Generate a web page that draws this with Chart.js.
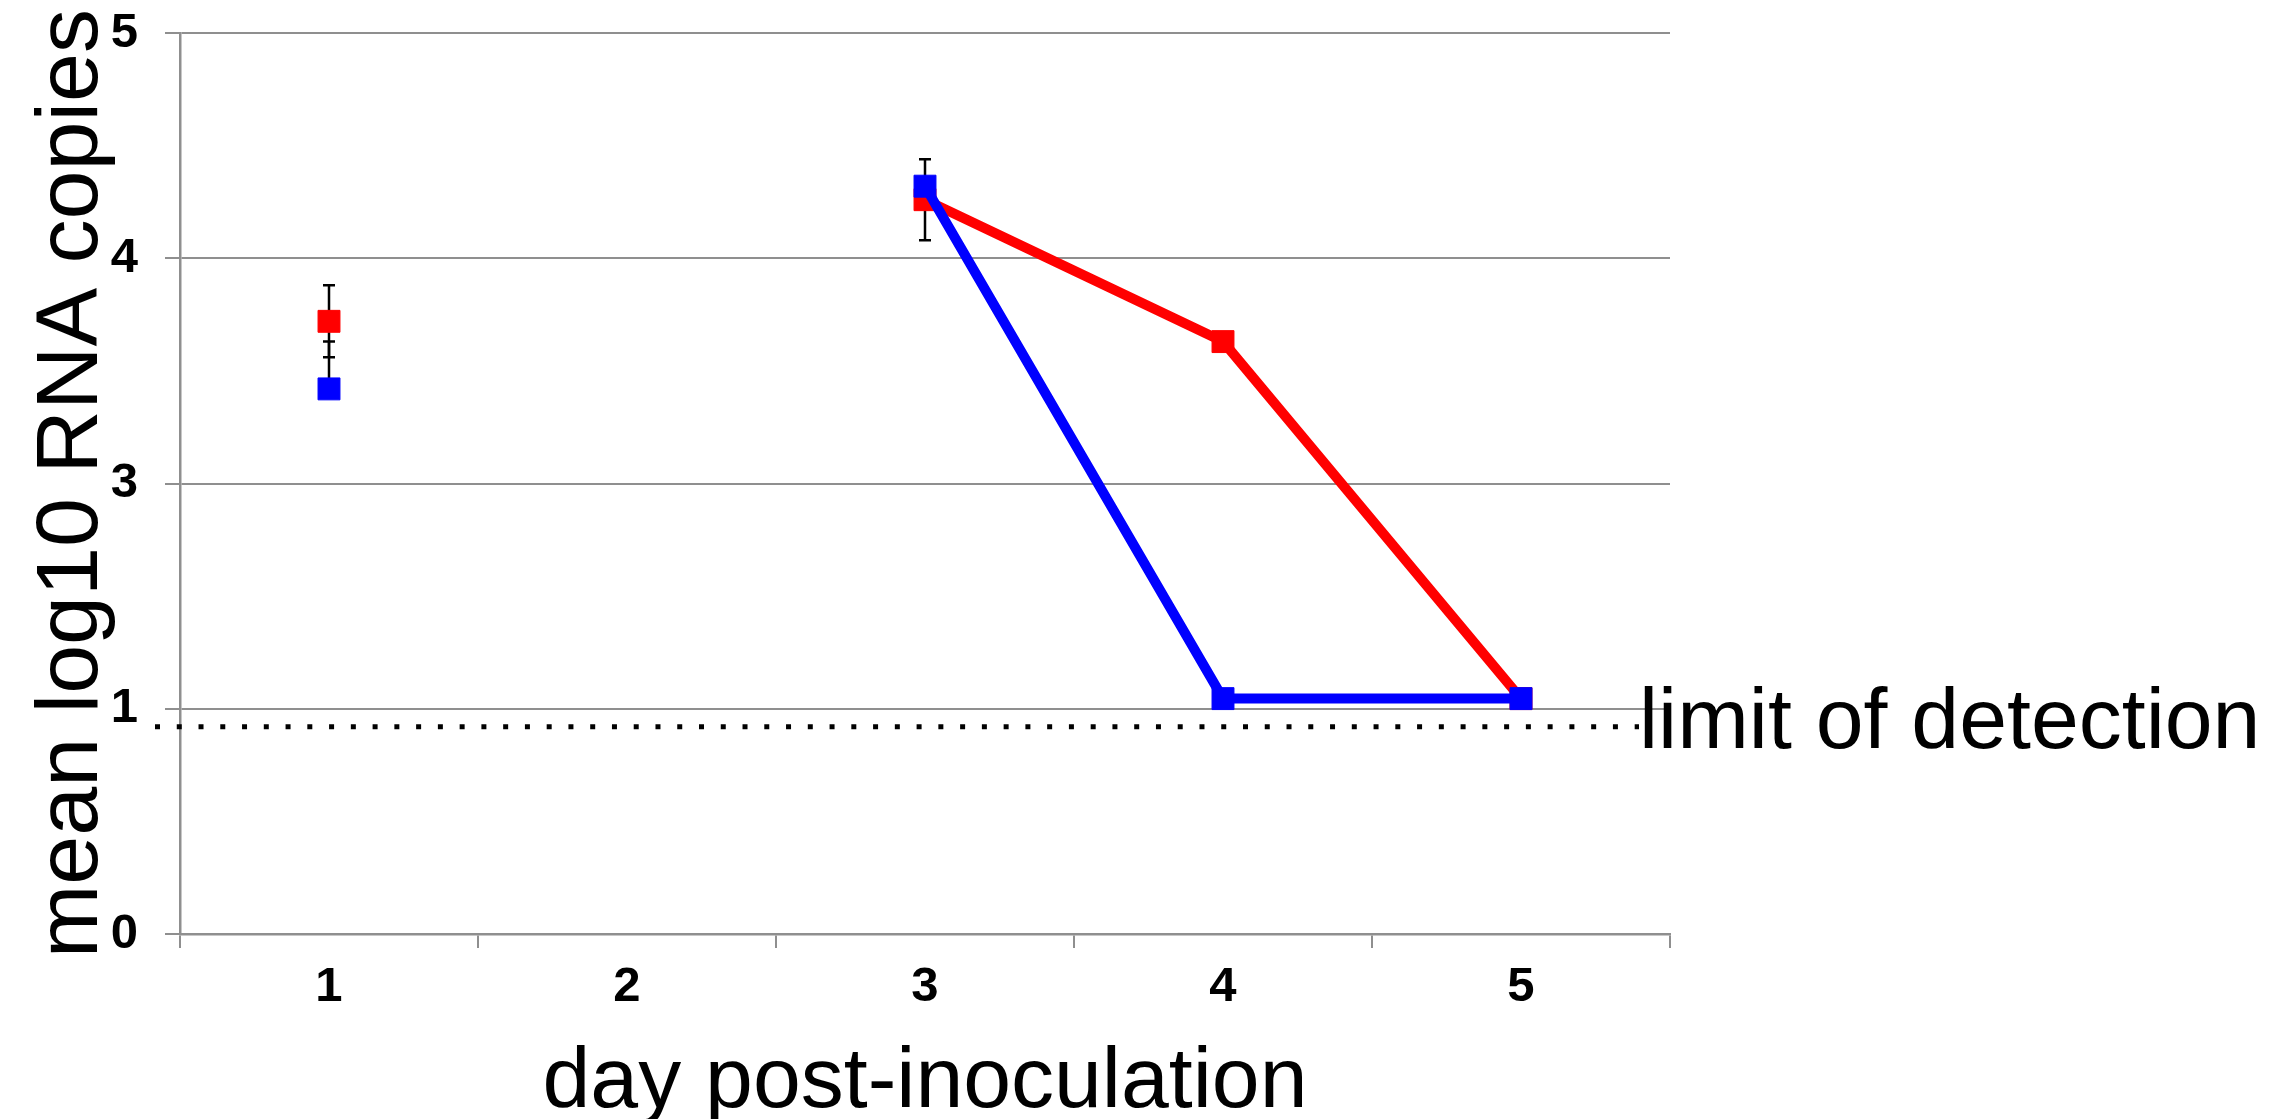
<!DOCTYPE html>
<html>
<head>
<meta charset="utf-8">
<script src="https://cdn.jsdelivr.net/npm/chart.js@4.4.1/dist/chart.umd.min.js"></script>
<style>
  html, body { margin: 0; padding: 0; background: #fff; }
  canvas { display: block; }
</style>
</head>
<body>
<canvas id="rnaChart" width="2285" height="1119"></canvas>
<script>
// ---- Data (y values in axis-label units) ----
const days        = ['1', '2', '3', '4', '5'];
const yTickLabels = ['0', '1', '3', '4', '5'];   // broken axis: no "2"
const redValues   = [3.72, null, 4.26, 3.63, 1.09];
const blueValues  = [3.42, null, 4.32, 1.09, 1.09];
const redErrUp    = [0.16, null, 0.18, null, null];
const redErrDown  = [0.16, null, 0.18, null, null];
const blueErrUp   = [0.21, null, null, null, null];
const blueErrDown = [0,    null, null, null, null];
const detectionLimit = 0.92;

// ---- Palette ----
const GRID = '#8f8f8f';
const RED  = '#ff0000';
const BLUE = '#0000ff';
const FONT = "'Liberation Sans', Arial, sans-serif";

// label value -> position on the evenly spaced axis (1..3 squeezed into one step)
function axisPos(v) {
  if (v == null) return null;
  if (v <= 1) return v;
  if (v <= 3) return 1 + (v - 1) / 2;
  return v - 1;
}

function series(label, color, values) {
  return {
    label,
    data: values.map(axisPos),
    borderColor: color,
    backgroundColor: color,
    borderWidth: 10,
    tension: 0,
    spanGaps: false,
    pointStyle: 'rect',
    pointRadius: 15.5,
    pointBorderWidth: 1,
    pointBorderColor: color,
    pointBackgroundColor: color
  };
}

// error bars drawn under the markers
const errorBars = {
  id: 'errorBars',
  beforeDatasetsDraw(chart) {
    const { ctx, scales: { x, y } } = chart;
    ctx.save();
    ctx.strokeStyle = '#000';
    ctx.lineWidth = 2.5;
    [[redValues, redErrUp, redErrDown], [blueValues, blueErrUp, blueErrDown]].forEach(([vals, up, down]) => {
      vals.forEach((v, i) => {
        if (v == null || up[i] == null) return;
        const px  = x.getPixelForValue(i);
        const yHi = y.getPixelForValue(axisPos(v + up[i]));
        const yLo = y.getPixelForValue(axisPos(v - down[i]));
        ctx.beginPath();
        ctx.moveTo(px, yHi);
        ctx.lineTo(px, yLo);
        if (up[i] > 0)   { ctx.moveTo(px - 6, yHi); ctx.lineTo(px + 6, yHi); }
        if (down[i] > 0) { ctx.moveTo(px - 6, yLo); ctx.lineTo(px + 6, yLo); }
        ctx.stroke();
      });
    });
    ctx.restore();
  }
};

// dotted limit-of-detection line + label
const detectionLine = {
  id: 'detectionLine',
  afterDraw(chart) {
    const { ctx, chartArea, scales: { y } } = chart;
    const ly = y.getPixelForValue(axisPos(detectionLimit));
    const textX = chartArea.right - 31;
    ctx.save();
    ctx.strokeStyle = '#000';
    ctx.lineWidth = 5;
    ctx.setLineDash([5, 16.76]);
    ctx.beginPath();
    ctx.moveTo(chartArea.left - 25, ly);
    ctx.lineTo(textX, ly);
    ctx.stroke();
    ctx.setLineDash([]);
    ctx.fillStyle = '#000';
    ctx.font = `86px ${FONT}`;
    ctx.textBaseline = 'alphabetic';
    ctx.textAlign = 'left';
    ctx.fillText('limit of detection', textX, ly + 21);
    ctx.restore();
  }
};

new Chart(document.getElementById('rnaChart'), {
  type: 'line',
  data: {
    labels: days,
    datasets: [
      series('blue', BLUE, blueValues),
      series('red', RED, redValues)
    ]
  },
  options: {
    responsive: false,
    animation: false,
    layout: { padding: { top: 33, right: 615, left: 0, bottom: 0 } },
    plugins: { legend: { display: false }, tooltip: { enabled: false } },
    scales: {
      x: {
        type: 'category',
        offset: true,
        grid: {
          offset: true,
          drawOnChartArea: false,
          drawTicks: true,
          tickLength: 14,
          color: GRID,
          lineWidth: 2
        },
        border: { color: GRID, width: 2.5 },
        ticks: {
          padding: 10,
          color: '#000',
          font: { family: FONT, size: 49, weight: 'bold' }
        },
        title: {
          display: true,
          text: 'day post-inoculation',
          color: '#000',
          font: { family: FONT, size: 86, lineHeight: 0.8 },
          padding: { top: 0, bottom: 1 }
        },
        afterFit(scale) { scale.height = 185; }
      },
      y: {
        min: 0,
        max: 4,
        grid: { color: GRID, lineWidth: 2, tickLength: 15 },
        border: { color: GRID, width: 2.5 },
        ticks: {
          stepSize: 1,
          padding: 27,
          color: '#000',
          font: { family: FONT, size: 49, weight: 'bold' },
          callback: (v) => yTickLabels[v]
        },
        title: {
          display: true,
          text: 'mean log10 RNA copies',
          color: '#000',
          font: { family: FONT, size: 88, lineHeight: 1.2 },
          padding: { top: 20, bottom: 0 }
        },
        afterFit(scale) {
          scale.width = 180;
          scale.paddingTop = 0;
          scale.paddingBottom = 0;
        }
      }
    }
  },
  plugins: [errorBars, detectionLine]
});
</script>
</body>
</html>
